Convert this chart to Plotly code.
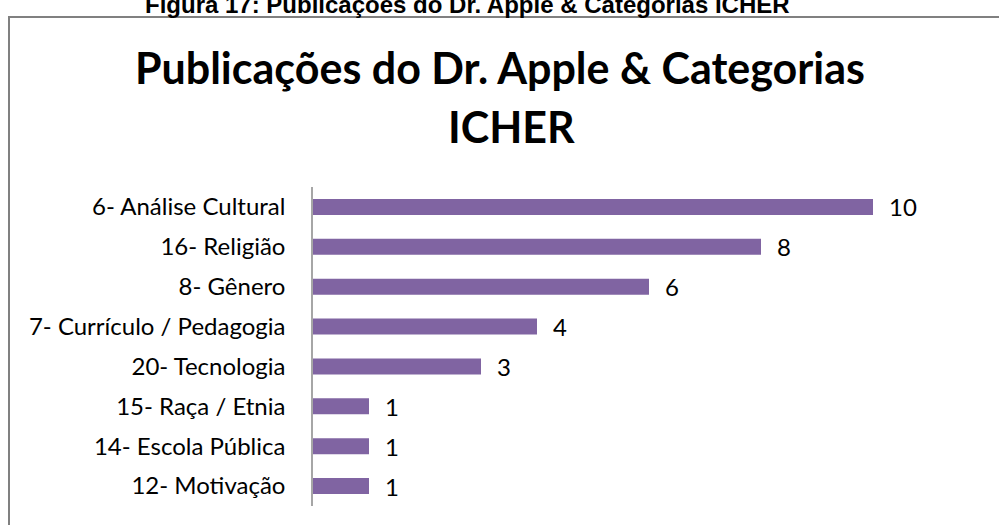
import plotly.graph_objects as go

categories = ["6- Análise Cultural", "16- Religião", "8- Gênero", "7- Currículo / Pedagogia",
              "20- Tecnologia", "15- Raça / Etnia", "14- Escola Pública", "12- Motivação"]
values = [10, 8, 6, 4, 3, 1, 1, 1]

W, H = 999, 525
px = lambda x: x / W
py = lambda y: 1 - y / H

fig = go.Figure(go.Bar(
    y=categories, x=values, orientation="h",
    marker=dict(color="#8064A2", line=dict(width=0)),
    hoverinfo="x+y",
))

label_annotations = [
    dict(x=v, y=c, xref="x", yref="y", text=str(v), showarrow=False,
         xanchor="left", yanchor="middle", xshift=14,
         font=dict(family="Lato", size=24, color="#000000"))
    for c, v in zip(categories, values)
]

fig.update_layout(
    width=W, height=H,
    margin=dict(l=0, r=0, t=0, b=0),
    paper_bgcolor="white", plot_bgcolor="white",
    showlegend=False,
    bargap=0.6,
    font=dict(family="Lato", color="#000000"),
    xaxis=dict(domain=[px(313), px(985)], range=[0, 12], visible=False, fixedrange=True),
    yaxis=dict(domain=[py(506), py(187)], autorange="reversed", fixedrange=True,
               showline=True, linecolor="#A6A6A6", linewidth=1.5,
               showgrid=False, ticks="", ticklabelstandoff=21,
               tickfont=dict(family="Lato", size=24, color="#000000")),
    shapes=[
        dict(type="line", xref="paper", yref="paper",
             x0=px(8), x1=1.0, y0=py(17), y1=py(17),
             line=dict(color="#808080", width=2)),
        dict(type="line", xref="paper", yref="paper",
             x0=px(9), x1=px(9), y0=py(17), y1=0.0,
             line=dict(color="#808080", width=2)),
    ],
    annotations=[
        dict(text="<b>Figura 17: Publicações do Dr. Apple & Categorias ICHER</b>",
             xref="paper", yref="paper", x=px(467), y=py(5), xanchor="center", yanchor="middle",
             showarrow=False, font=dict(family="Liberation Sans", size=24, color="#000000")),
        dict(text="<b>Publicações do Dr. Apple & Categorias</b>",
             xref="paper", yref="paper", x=px(500), y=py(68), xanchor="center", yanchor="middle",
             showarrow=False, font=dict(family="Lato", size=43, color="#000000")),
        dict(text="<b>ICHER</b>",
             xref="paper", yref="paper", x=px(511), y=py(126), xanchor="center", yanchor="middle",
             showarrow=False, font=dict(family="Lato", size=43, color="#000000")),
    ] + label_annotations,
)

fig.write_html("out.html", config={"displayModeBar": False},
               post_script="document.body.style.margin='0';document.body.style.overflow='hidden';")
